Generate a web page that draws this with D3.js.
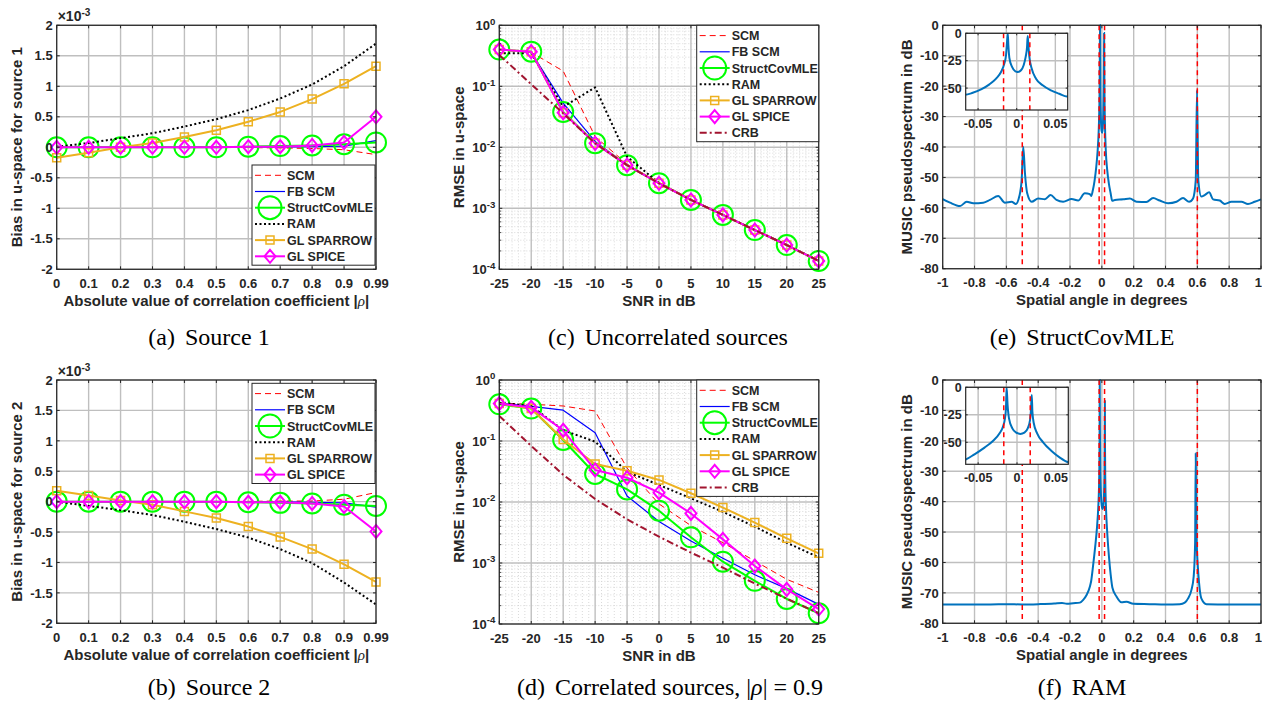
<!DOCTYPE html>
<html>
<head>
<meta charset="utf-8">
<script src="https://cdn.jsdelivr.net/npm/d3@7"></script>
<style>
  body { margin: 0; background: #fff; }
  text { font-family: "Liberation Sans", Arial, Helvetica, sans-serif; font-weight: bold; fill: #262626; }
  text.cap { font-family: "Liberation Serif", "Times New Roman", serif; font-weight: normal; fill: #000; }
</style>
</head>
<body>
<script>
// ---------- data ----------
const rhoLabels = ["0", "0.1", "0.2", "0.3", "0.4", "0.5", "0.6", "0.7", "0.8", "0.9", "0.99"];
const biasTicks = [-2, -1.5, -1, -0.5, 0, 0.5, 1, 1.5, 2];

// bias for source 1 (x 1e-3)
const bias1SCM     = [0, 0, 0, 0, 0, 0, -0.005, -0.01, -0.02, -0.04, -0.12];
const bias1FBSCM   = [0, 0, 0, 0, 0, 0, 0.005, 0.005, 0.01, 0.02, 0.11];
const bias1Struct  = [0, 0, 0, 0, 0, 0, 0.01, 0.02, 0.03, 0.05, 0.08];
const bias1RAM     = [0.01, 0.07, 0.15, 0.23, 0.34, 0.46, 0.61, 0.80, 1.03, 1.33, 1.70];
const bias1Sparrow = [-0.17, -0.09, 0.0, 0.07, 0.17, 0.28, 0.42, 0.58, 0.79, 1.04, 1.33];
const bias1Spice   = [0, 0, 0, 0, 0, 0, 0.01, 0.01, 0.03, 0.08, 0.50];

// bias for source 2 (x 1e-3)
const bias2SCM     = [0, 0, 0, 0, 0, 0, 0.005, 0.01, 0.01, 0.04, 0.15];
const bias2FBSCM   = [0, 0, 0, 0, 0, 0, -0.005, -0.005, -0.01, -0.02, -0.09];
const bias2Struct  = [0, 0, 0, 0, 0, 0, -0.01, -0.02, -0.03, -0.05, -0.07];
const bias2RAM     = [0, -0.07, -0.14, -0.22, -0.33, -0.45, -0.59, -0.78, -1.01, -1.33, -1.69];
const bias2Sparrow = [0.18, 0.10, 0.02, -0.05, -0.16, -0.27, -0.41, -0.58, -0.78, -1.03, -1.32];
const bias2Spice   = [0, 0, 0, 0, 0, 0, -0.01, -0.01, -0.03, -0.08, -0.49];

const snrDb = [-25, -20, -15, -10, -5, 0, 5, 10, 15, 20, 25];
const rmseTicks = [1e-4, 1e-3, 1e-2, 1e-1, 1];

// RMSE, uncorrelated sources
const uncSCM     = [0.40, 0.36, 0.178, 0.015, 0.0053, 0.0026, 0.00138, 0.00079, 0.00044, 0.00025, 0.000138];
const uncFBSCM   = [0.40, 0.36, 0.053, 0.0125, 0.0051, 0.00258, 0.00137, 0.00078, 0.00044, 0.00025, 0.000137];
const uncStruct  = [0.40, 0.37, 0.038, 0.0117, 0.0051, 0.00258, 0.00137, 0.00078, 0.00044, 0.00025, 0.000137];
const uncRAM     = [0.348, 0.348, 0.046, 0.096, 0.0070, 0.0026, 0.00138, 0.00078, 0.00044, 0.00025, 0.000138];
const uncSparrow = [0.40, 0.37, 0.037, 0.0117, 0.0051, 0.00258, 0.00137, 0.00078, 0.00044, 0.00025, 0.000137];
const uncSpice   = [0.40, 0.37, 0.037, 0.0116, 0.0051, 0.00257, 0.00137, 0.00078, 0.00044, 0.00025, 0.000137];
const uncCRB     = [0.326, 0.108, 0.036, 0.0116, 0.0051, 0.00257, 0.00137, 0.00078, 0.00044, 0.00025, 0.000137];

// RMSE, correlated sources |rho| = 0.9
const corSCM     = [0.42, 0.40, 0.375, 0.31, 0.036, 0.0093, 0.0041, 0.00215, 0.00108, 0.00054, 0.00033];
const corFBSCM   = [0.42, 0.37, 0.32, 0.137, 0.0125, 0.0048, 0.0023, 0.0012, 0.00064, 0.00038, 0.00021];
const corStruct  = [0.40, 0.34, 0.104, 0.0288, 0.0161, 0.0072, 0.00264, 0.00105, 0.00051, 0.000257, 0.00015];
const corRAM     = [0.425, 0.375, 0.15, 0.0975, 0.0314, 0.019, 0.0115, 0.0069, 0.00394, 0.00215, 0.00124];
const corSparrow = [0.41, 0.34, 0.106, 0.042, 0.0326, 0.023, 0.0139, 0.0081, 0.0046, 0.00254, 0.00144];
const corSpice   = [0.41, 0.356, 0.15, 0.0335, 0.025, 0.0142, 0.0065, 0.00244, 0.00089, 0.00037, 0.000176];
const corCRB     = [0.257, 0.083, 0.028, 0.0112, 0.0052, 0.0027, 0.00148, 0.00084, 0.00046, 0.00026, 0.00015];

// MUSIC pseudospectra (dB) versus spatial angle (deg)
const specStructX = [-1, -0.954, -0.891, -0.849, -0.808, -0.745, -0.703, -0.651, -0.609, -0.567, -0.540, -0.519, -0.504,
  -0.494, -0.483, -0.469, -0.441, -0.4, -0.358, -0.322, -0.285, -0.243, -0.190, -0.149, -0.107, -0.075,
  -0.0668, -0.0569, -0.0461, -0.0353, -0.0267, -0.0203, -0.016, -0.0138, -0.0125, -0.0116, -0.0108, -0.0095,
  -0.006, -0.0017, 0.0017, 0.0056, 0.009, 0.0116, 0.0134, 0.0142, 0.0151, 0.0164, 0.0194, 0.025, 0.0336,
  0.0444, 0.0552, 0.0651, 0.082, 0.134, 0.176, 0.218, 0.280, 0.322, 0.364, 0.416, 0.469, 0.510, 0.548, 0.573,
  0.590, 0.598, 0.606, 0.625, 0.646, 0.674, 0.699, 0.741, 0.772, 0.814, 0.877, 0.918, 0.960, 1];
const specStructY = [-57.1, -58.3, -59.4, -58, -58.5, -58.3, -57.4, -56.1, -58.3, -58, -58.7, -56.3, -50.9,
  -39.9, -48.7, -55.2, -58, -56.9, -57.2, -55.8, -57.4, -58, -57.1, -57.6, -55.2, -55.5,
  -56.1, -54.3, -51.2, -46.6, -41.4, -35.3, -27.6, -19.9, -7.7, 0, -10.7, -22.4,
  -30.7, -34.7, -35.3, -33.7, -29.1, -21.5, -12.3, -2.5, -10.7, -21.5, -32.2, -41.4, -47.5,
  -52.1, -55.2, -57.7, -57.4, -57.2, -56.9, -58, -58.1, -56.8, -57.6, -58.5, -58, -56.8, -58, -56.9,
  -50.9, -21.3, -50.9, -56.3, -55.8, -54.9, -57.2, -57.6, -58.7, -58, -58, -58.7, -58, -57.2];

const specRamX = [-1, -0.9, -0.8, -0.7, -0.6, -0.5, -0.4, -0.3, -0.25, -0.22, -0.18, -0.138, -0.117, -0.096, -0.075,
  -0.0668, -0.0547, -0.0418, -0.031, -0.0224, -0.0181, -0.0155, -0.0142, -0.0134, -0.0121, -0.0103, -0.006,
  -0.0009, 0.0043, 0.0095, 0.0138, 0.0168, 0.0181, 0.019, 0.0198, 0.0216, 0.0259, 0.0336, 0.0444, 0.0552, 0.066,
  0.092, 0.123, 0.155, 0.197, 0.3, 0.4, 0.49, 0.521, 0.542, 0.563, 0.577, 0.586, 0.590, 0.594, 0.604, 0.611,
  0.625, 0.657, 0.8, 1];
const specRamY = [-73.8, -73.8, -73.8, -73.8, -73.7, -73.8, -73.7, -73.5, -73.3, -73.6, -73.4, -73.2, -72.3, -70.7, -67.9,
  -66, -60.9, -54.8, -48.8, -41.8, -35.8, -28.2, -19.1, 0, -16.1, -28.2, -37.3,
  -41.2, -42.4, -41.2, -37.3, -29.7, -19.1, -7, -22.1, -32.7, -41.8, -50, -57.9, -63.9, -68.2,
  -71.2, -73.1, -72.9, -73.6, -73.7, -73.8, -73.7, -73.2, -71.8, -69, -64.6, -53.7, -24.1, -50, -62, -66.8,
  -71.8, -73.7, -73.8, -73.8];

const trueDoa = [-0.5, -0.017, 0.017, 0.6];
const angleTicks = [-1, -0.8, -0.6, -0.4, -0.2, 0, 0.2, 0.4, 0.6, 0.8, 1];
const dbTicks = [-80, -70, -60, -50, -40, -30, -20, -10, 0];
const insetXTicks = [-0.05, 0, 0.05];
const insetYTicks = [-50, -25, 0];

const methods = ["SCM", "FB SCM", "StructCovMLE", "RAM", "GL SPARROW", "GL SPICE", "CRB"];

// ---------- styles ----------
const styles = {
  "SCM":          { color: "#ff0000", width: 1,   dash: "6,4" },
  "FB SCM":       { color: "#0000ff", width: 1.2 },
  "StructCovMLE": { color: "#00ff00", width: 2,   marker: "circle" },
  "RAM":          { color: "#000000", width: 2,   dash: "2,2.5" },
  "GL SPARROW":   { color: "#EDB120", width: 2,   marker: "square" },
  "GL SPICE":     { color: "#ff00ff", width: 2,   marker: "diamond" },
  "CRB":          { color: "#A2142F", width: 2,   dash: "7,3,2,3" }
};
const gridColor = "#bfbfbf", axisColor = "#262626", specColor = "#0072BD";
const tickFont = 13, labelFont = 15;

const svg = d3.select("body").append("svg").attr("width", 1262).attr("height", 704);
let clipN = 0;

function markerPath(type, big) {
  if (type === "circle") { const r = big ? 11.5 : 10; return `M${-r},0a${r},${r} 0 1,0 ${2 * r},0a${r},${r} 0 1,0 ${-2 * r},0`; }
  if (type === "square") return "M-4,-4H4V4H-4Z";
  return "M0,-6.5L5.5,0L0,6.5L-5.5,0Z";
}

// axes frame with grid, returns layer for data
function axes(box, x, y, o) {
  const g = svg.append("g");
  const { l, r, t, b } = box;
  g.append("rect").attr("x", l).attr("y", t).attr("width", r - l).attr("height", b - t).attr("fill", "#fff");
  const grid = g.append("g");
  if (o.minorX) grid.selectAll(null).data(o.minorX).join("line")
    .attr("x1", d => x(d)).attr("x2", d => x(d)).attr("y1", t).attr("y2", b)
    .attr("stroke", "#d0d0d0").attr("stroke-width", 0.8).attr("stroke-dasharray", "1,2");
  if (o.minorY) grid.selectAll(null).data(o.minorY).join("line")
    .attr("y1", d => y(d)).attr("y2", d => y(d)).attr("x1", l).attr("x2", r)
    .attr("stroke", "#d0d0d0").attr("stroke-width", 0.8).attr("stroke-dasharray", "1,2");
  grid.selectAll(null).data(o.xTicks).join("line")
    .attr("x1", d => x(d)).attr("x2", d => x(d)).attr("y1", t).attr("y2", b)
    .attr("stroke", gridColor).attr("stroke-width", 1.4);
  grid.selectAll(null).data(o.yTicks).join("line")
    .attr("y1", d => y(d)).attr("y2", d => y(d)).attr("x1", l).attr("x2", r)
    .attr("stroke", gridColor).attr("stroke-width", 1.4);

  const plot = g.append("g");
  if (o.clip) {
    const id = "clip" + (clipN++);
    g.append("clipPath").attr("id", id).append("rect")
      .attr("x", l).attr("y", t).attr("width", r - l).attr("height", b - t);
    plot.attr("clip-path", `url(#${id})`);
  }
  const over = g.append("g");
  const fs = o.fontSize || tickFont;
  // box and ticks
  over.append("rect").attr("x", l).attr("y", t).attr("width", r - l).attr("height", b - t)
    .attr("fill", "none").attr("stroke", axisColor).attr("stroke-width", 1.2);
  const tk = o.tickLen || 3;
  over.selectAll(null).data(o.xTicks).join("path")
    .attr("d", d => `M${x(d)},${b}v${-tk}M${x(d)},${t}v${tk}`).attr("stroke", axisColor).attr("stroke-width", 1);
  over.selectAll(null).data(o.yTicks).join("path")
    .attr("d", d => `M${l},${y(d)}h${tk}M${r},${y(d)}h${-tk}`).attr("stroke", axisColor).attr("stroke-width", 1);
  if (o.minorY) over.selectAll(null).data(o.minorY).join("path")
    .attr("d", d => `M${l},${y(d)}h2M${r},${y(d)}h-2`).attr("stroke", axisColor).attr("stroke-width", 0.8);

  const nx = o.xTicks.length;
  over.selectAll(null).data(o.xTicks).join("text")
    .attr("x", (d, i) => (o.lastEnd && i === nx - 1) ? 1262 : x(d)).attr("y", b + (o.xLabOff || 18.5))
    .attr("text-anchor", (d, i) => (o.lastEnd && i === nx - 1) ? "end" : "middle")
    .attr("font-size", fs).text(d => d);
  const yl = over.selectAll(null).data(o.yTicks).join("text")
    .attr("x", l - 4).attr("y", d => y(d)).attr("dy", "0.36em").attr("text-anchor", "end")
    .attr("font-size", fs);
  if (o.logY) {
    yl.text("10").append("tspan").attr("dy", "-0.55em").attr("font-size", fs * 0.74)
      .text(d => String(Math.round(Math.log10(d))));
  } else {
    yl.text(d => d);
  }
  if (o.xLabel) over.append("text").attr("x", (l + r) / 2).attr("y", b + 36.5)
    .attr("text-anchor", "middle").attr("font-size", labelFont).html(o.xLabel);
  if (o.yLabel) over.append("text")
    .attr("transform", `translate(${o.yLabelX},${(t + b) / 2}) rotate(-90)`)
    .attr("text-anchor", "middle").attr("dy", "0.36em").attr("font-size", labelFont).text(o.yLabel);
  return { g, plot, over };
}

function drawSeries(layer, xs, ys, name, x, y) {
  const st = styles[name];
  const line = d3.line().x((d, i) => x(xs[i])).y(d => y(d));
  layer.append("path").datum(ys).attr("d", line).attr("fill", "none")
    .attr("stroke", st.color).attr("stroke-width", st.width)
    .attr("stroke-dasharray", st.dash || null).attr("stroke-linejoin", "round");
  if (st.marker) layer.selectAll(null).data(ys).join("path")
    .attr("transform", (d, i) => `translate(${x(xs[i])},${y(d)})`)
    .attr("d", markerPath(st.marker)).attr("fill", "none")
    .attr("stroke", st.color).attr("stroke-width", st.marker === "square" ? 1.5 : 2);
}

function legend(layer, names, l, t, w) {
  const step = 16.2;
  const g = layer.append("g");
  g.append("rect").attr("x", l).attr("y", t).attr("width", w).attr("height", names.length * step + 3)
    .attr("fill", "#fff").attr("stroke", axisColor).attr("stroke-width", 1);
  names.forEach((n, i) => {
    const st = styles[n], cy = t + 10.3 + i * step;
    g.append("line").attr("x1", l + 3).attr("x2", l + 33).attr("y1", cy).attr("y2", cy)
      .attr("stroke", st.color).attr("stroke-width", st.width).attr("stroke-dasharray", st.dash || null);
    if (st.marker) g.append("path").attr("transform", `translate(${l + 18},${cy})`)
      .attr("d", markerPath(st.marker, true)).attr("fill", "none")
      .attr("stroke", st.color).attr("stroke-width", st.marker === "square" ? 1.5 : 2);
    g.append("text").attr("x", l + 35).attr("y", cy).attr("dy", "0.36em").attr("font-size", 12.5).text(n);
  });
}

function caption(cx, cy, label, html) {
  const t = svg.append("text").attr("class", "cap").attr("x", cx).attr("y", cy)
    .attr("text-anchor", "middle").attr("font-size", 24);
  t.append("tspan").text(label);
  t.append("tspan").attr("dx", 10).html(html);
}

// ---------- bias panels ----------
function biasPanel(box, series, yLabel) {
  const x = d3.scalePoint().domain(rhoLabels).range([box.l, box.r]);
  const y = d3.scaleLinear().domain([-2, 2]).range([box.b, box.t]);
  const ax = axes(box, x, y, {
    xTicks: rhoLabels, yTicks: biasTicks,
    xLabel: 'Absolute value of correlation coefficient |<tspan font-family="Liberation Serif" font-style="italic" font-weight="normal">ρ</tspan>|',
    yLabel, yLabelX: 17
  });
  series.forEach(([n, v]) => drawSeries(ax.plot, rhoLabels, v, n, x, y));
  const e = ax.over.append("text").attr("x", box.l + 1).attr("y", box.t - 4.5).attr("font-size", 14)
    .attr("font-weight", "normal").text("×10");
  e.append("tspan").attr("dy", "-0.5em").attr("font-size", 10).text("-3");
  return ax;
}

const boxA = { l: 56.7, r: 376, t: 25.3, b: 269.3 };
const boxB = { l: 56.7, r: 376, t: 380, b: 623.3 };
const axA = biasPanel(boxA, [["SCM", bias1SCM], ["FB SCM", bias1FBSCM], ["StructCovMLE", bias1Struct],
  ["RAM", bias1RAM], ["GL SPARROW", bias1Sparrow], ["GL SPICE", bias1Spice]], "Bias in u-space for source 1");
legend(axA.over, methods.slice(0, 6), 252, 165, 123);
const axB = biasPanel(boxB, [["SCM", bias2SCM], ["FB SCM", bias2FBSCM], ["StructCovMLE", bias2Struct],
  ["RAM", bias2RAM], ["GL SPARROW", bias2Sparrow], ["GL SPICE", bias2Spice]], "Bias in u-space for source 2");
legend(axB.over, methods.slice(0, 6), 252, 383.3, 123);

// ---------- RMSE panels ----------
const minorDecades = [];
for (let k = -4; k < 0; k++) for (let m = 2; m <= 9; m++) minorDecades.push(m * Math.pow(10, k));
const minorSnr = d3.range(-25, 26).filter(v => v % 5 !== 0);

function rmsePanel(box, series) {
  const x = d3.scaleLinear().domain([-25, 25]).range([box.l, box.r]);
  const y = d3.scaleLog().domain([1e-4, 1]).range([box.b, box.t]);
  const ax = axes(box, x, y, {
    xTicks: snrDb, yTicks: rmseTicks, minorY: minorDecades, minorX: minorSnr, logY: true,
    xLabel: "SNR in dB", yLabel: "RMSE in u-space", yLabelX: 458.3
  });
  series.forEach(([n, v]) => drawSeries(ax.plot, snrDb, v, n, x, y));
  legend(ax.over, methods, 696.7, box.t, box.r - 696.7);
  return ax;
}
rmsePanel({ l: 499.3, r: 818.7, t: 25.3, b: 269.3 }, [["SCM", uncSCM], ["FB SCM", uncFBSCM], ["StructCovMLE", uncStruct],
  ["RAM", uncRAM], ["GL SPARROW", uncSparrow], ["GL SPICE", uncSpice], ["CRB", uncCRB]]);
rmsePanel({ l: 499.3, r: 818.7, t: 380, b: 624 }, [["SCM", corSCM], ["FB SCM", corFBSCM], ["StructCovMLE", corStruct],
  ["RAM", corRAM], ["GL SPARROW", corSparrow], ["GL SPICE", corSpice], ["CRB", corCRB]]);

// ---------- MUSIC spectrum panels ----------
function doaLines(layer, x, t, b) {
  layer.selectAll(null).data(trueDoa).join("line")
    .attr("x1", d => x(d)).attr("x2", d => x(d)).attr("y1", t).attr("y2", b)
    .attr("stroke", "#ff0000").attr("stroke-width", 1.5).attr("stroke-dasharray", "5,4");
}

function specPanel(box, inset, xs, ys) {
  const x = d3.scaleLinear().domain([-1, 1]).range([box.l, box.r]);
  const y = d3.scaleLinear().domain([-80, 0]).range([box.b, box.t]);
  const ax = axes(box, x, y, {
    xTicks: angleTicks, yTicks: dbTicks, xLabel: "Spatial angle in degrees", lastEnd: true,
    yLabel: "MUSIC pseudospectrum in dB", yLabelX: 906.7
  });
  const line = d3.line().x((d, i) => x(xs[i])).y(d => y(d)).curve(d3.curveMonotoneX);
  ax.plot.append("path").datum(ys).attr("d", line).attr("fill", "none")
    .attr("stroke", specColor).attr("stroke-width", 2);
  doaLines(ax.plot, x, box.t, box.b);

  // zoomed inset
  const xi = d3.scaleLinear().domain([-0.066, 0.066]).range([inset.l, inset.r]);
  const yi = d3.scaleLinear().domain([-70, 0]).range([inset.b, inset.t]);
  const ins = axes(inset, xi, yi, { xTicks: insetXTicks, yTicks: insetYTicks, clip: true, tickLen: 2,
    fontSize: 12.5, xLabOff: 17.5 });
  const lineI = d3.line().x((d, i) => xi(xs[i])).y(d => yi(d)).curve(d3.curveMonotoneX);
  ins.plot.append("path").datum(ys).attr("d", lineI).attr("fill", "none")
    .attr("stroke", specColor).attr("stroke-width", 2);
  doaLines(ins.plot, xi, inset.t, inset.b);
  ins.g.raise();
}
specPanel({ l: 942.7, r: 1261, t: 25.3, b: 268.7 }, { l: 965.7, r: 1067.7, t: 33.3, b: 110 }, specStructX, specStructY);
specPanel({ l: 942.7, r: 1261, t: 380, b: 623.3 }, { l: 965.7, r: 1068.3, t: 387.3, b: 464.3 }, specRamX, specRamY);

// ---------- captions ----------
caption(209, 345, "(a)", "Source 1");
caption(209, 695, "(b)", "Source 2");
caption(668, 345, "(c)", "Uncorrelated sources");
caption(670, 695, "(d)", 'Correlated sources, |<tspan font-style="italic">ρ</tspan>| = 0.9');
caption(1082, 345, "(e)", "StructCovMLE");
caption(1082, 695, "(f)", "RAM");
</script>
</body>
</html>
